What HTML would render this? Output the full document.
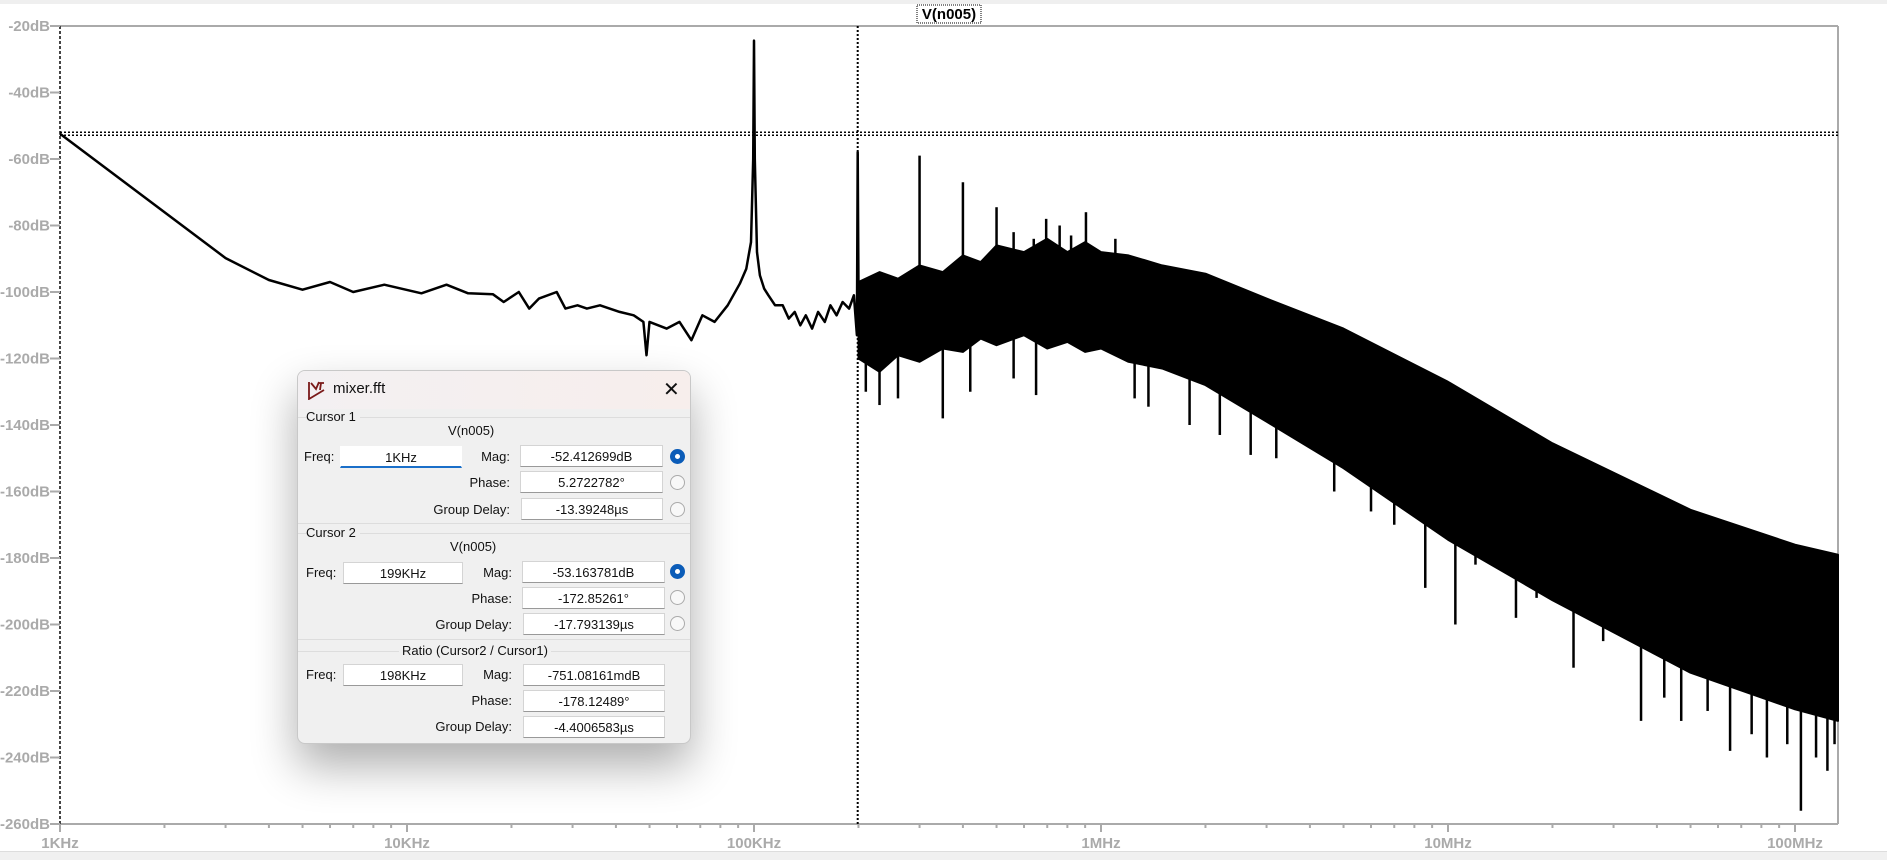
<!DOCTYPE html>
<html><head><meta charset="utf-8">
<style>
html,body{margin:0;padding:0;width:1887px;height:859px;overflow:hidden;background:#fff;font-family:"Liberation Sans",sans-serif;}
#chart{position:absolute;left:0;top:0;}
.dlg{position:absolute;left:297px;top:370px;width:392px;height:372px;background:#f0f0f0;border:1px solid #c8c8c8;border-radius:8px;box-shadow:0 22px 45px rgba(0,0,0,0.32);overflow:hidden;font-size:13px;color:#111;}
.tb{position:absolute;left:0;top:0;width:392px;height:38px;background:linear-gradient(90deg,#f3f0f2,#f7eeec);}
.a{position:absolute;white-space:nowrap;}
.box{position:absolute;background:#fff;border:1px solid #d4d4d4;border-bottom:1px solid #999;text-align:center;line-height:22px;height:22px;box-sizing:border-box;}
.r{position:absolute;width:15px;height:15px;border-radius:50%;border:1px solid #aaa;background:#f8f8f8;box-sizing:border-box;}
.r.on{background:#fff;border:5px solid #0b5cb8;}
.sep{position:absolute;left:0;width:392px;height:1px;background:#ddd;}
.right{text-align:right;}
</style></head><body>
<div style="position:absolute;left:0;top:0;width:1887px;height:4px;background:#efefef;"></div>
<div style="position:absolute;left:0;top:851px;width:1887px;height:8px;background:#f0f0f0;border-top:1px solid #ddd;"></div>
<svg id="chart" width="1887" height="859"></svg>

<div class="dlg">
  <div class="tb"></div>
  <svg class="a" style="left:9px;top:9px" width="20" height="20"><path d="M2 2 L2 19 L17 10 M4 3 L9 9 L12 2 M11 3 L17 3 M14 3 L13 10" stroke="#7a1a1a" stroke-width="1.8" fill="none"/></svg>
  <div class="a" style="left:35px;top:9px;font-size:15px;">mixer.fft</div>
  <div class="a" style="left:365px;top:6px;font-size:20px;font-weight:300;">✕</div>

  <div class="sep" style="top:46px;"></div>
  <div class="a" style="left:8px;top:38px;background:#f0f0f0;padding-right:4px;">Cursor 1</div>
  <div class="a" style="left:150px;top:52px;width:46px;text-align:center;">V(n005)</div>
  <div class="a" style="left:6px;top:78px;">Freq:</div>
  <div class="box" style="left:42px;top:75px;width:122px;border-bottom:2px solid #1a6fc9;border-color:#fff #fff #1a6fc9 #fff;">1KHz</div>
  <div class="a right" style="left:150px;top:78px;width:62px;">Mag:</div>
  <div class="box" style="left:222px;top:74px;width:143px;">-52.412699dB</div>
  <div class="r on" style="left:372px;top:78px;"></div>
  <div class="a right" style="left:100px;top:104px;width:112px;">Phase:</div>
  <div class="box" style="left:222px;top:100px;width:143px;">5.2722782°</div>
  <div class="r" style="left:372px;top:104px;"></div>
  <div class="a right" style="left:60px;top:131px;width:152px;">Group Delay:</div>
  <div class="box" style="left:223px;top:127px;width:142px;">-13.39248µs</div>
  <div class="r" style="left:372px;top:131px;"></div>

  <div class="sep" style="top:152px;"></div>
  <div class="sep" style="top:162px;"></div>
  <div class="a" style="left:8px;top:154px;background:#f0f0f0;padding-right:4px;">Cursor 2</div>
  <div class="a" style="left:152px;top:168px;width:46px;text-align:center;">V(n005)</div>
  <div class="a" style="left:8px;top:194px;">Freq:</div>
  <div class="box" style="left:45px;top:191px;width:120px;">199KHz</div>
  <div class="a right" style="left:152px;top:194px;width:62px;">Mag:</div>
  <div class="box" style="left:224px;top:190px;width:143px;">-53.163781dB</div>
  <div class="r on" style="left:372px;top:193px;"></div>
  <div class="a right" style="left:102px;top:220px;width:112px;">Phase:</div>
  <div class="box" style="left:224px;top:216px;width:143px;">-172.85261°</div>
  <div class="r" style="left:372px;top:219px;"></div>
  <div class="a right" style="left:62px;top:246px;width:152px;">Group Delay:</div>
  <div class="box" style="left:225px;top:242px;width:142px;">-17.793139µs</div>
  <div class="r" style="left:372px;top:245px;"></div>

  <div class="sep" style="top:268px;"></div>
  <div class="sep" style="top:280px;"></div>
  <div class="a" style="left:101px;top:272px;background:#f0f0f0;padding:0 3px;">Ratio (Cursor2 / Cursor1)</div>
  <div class="a" style="left:8px;top:296px;">Freq:</div>
  <div class="box" style="left:45px;top:293px;width:120px;">198KHz</div>
  <div class="a right" style="left:152px;top:296px;width:62px;">Mag:</div>
  <div class="box" style="left:225px;top:293px;width:142px;">-751.08161mdB</div>
  <div class="a right" style="left:102px;top:322px;width:112px;">Phase:</div>
  <div class="box" style="left:225px;top:319px;width:142px;">-178.12489°</div>
  <div class="a right" style="left:62px;top:348px;width:152px;">Group Delay:</div>
  <div class="box" style="left:225px;top:345px;width:142px;">-4.4006583µs</div>
</div>

<script>
// ---- data (frequency in KHz, magnitude in dB) ----
const yTicks = [-20,-40,-60,-80,-100,-120,-140,-160,-180,-200,-220,-240,-260];
const xTickFreqs = [1,10,100,1000,10000,100000];
const xTickLabels = ["1KHz","10KHz","100KHz","1MHz","10MHz","100MHz"];
const lowFreqs = [1,3.0,4,5,6,7,8.6,11,13,15,17.7,19,21,22.5,24,27,28.6,31,33,36,41,45,48,49,50,56,61,66,71,77,84,91,95,98,99.5,100,100.5,102,104,107,110,115,121,126,131,136,141,147,153,160,166,173,180,188,194,198,199,200];
const lowDb = [-52.4,-89.8,-96.4,-99.3,-97,-100,-97.8,-100.4,-97.8,-100.4,-100.7,-103,-100,-105,-102,-100,-105,-104,-105,-104,-106,-107,-109,-119,-109,-111,-109,-114.5,-107,-109,-104,-97.5,-93,-85,-60,-24.4,-60,-88,-95,-99,-101,-104,-104,-108,-106,-110,-107,-111,-106,-109,-104,-107,-103,-105,-101,-113,-58,-100];
const envFreqs = [200,230,260,300,350,400,450,500,600,700,800,900,1000,1200,1500,2000,3000,5000,10000,20000,50000,100000,133000];
const envUpper = [-97,-94,-96,-92,-94,-89,-91,-86,-88,-84,-88,-85,-88,-89,-92,-94.5,-102,-111,-127,-145.5,-165.5,-176,-179];
const envLower = [-120,-124,-119,-121,-117,-118,-114,-116,-113,-117,-115,-118,-117,-121,-123,-128,-139,-153,-174.5,-192.7,-214.5,-225.5,-229];
const spikeUpFreqs = [300,400,500,695,905,820,1100,560,760,640];
const spikeUpDb = [-59,-67,-74.5,-78,-76,-83,-84,-82,-80,-84];
const spikeDownFreqs = [350,650,1370,2700,3700,4700,8600,10500,15700,23000,36000,47000,65000,83000,104000,124000,210,230,260,420,560,1800,1250,2200,3200,6000,7000,12000,18000,28000,42000,56000,75000,95000,115000,130000];
const spikeDownDb = [-138,-131,-134.5,-149,-142,-160,-189,-200,-198,-213,-229,-229,-238,-240,-256,-244,-130,-134,-132,-130,-126,-140,-132,-143,-150,-166,-170,-182,-192,-205,-222,-226,-233,-236,-240,-236];

// ---- axes ----
const X0=60, DEC=347, Y0=26, PER20=66.5, XR=1838, YB=824;
const xs = f => X0 + Math.log10(f)*DEC;
const ys = d => Y0 + (-20-d)/20*PER20;
const NS="http://www.w3.org/2000/svg";
const svg=document.getElementById('chart');
function mk(tag,attrs){const e=document.createElementNS(NS,tag);for(const k in attrs)e.setAttribute(k,attrs[k]);svg.appendChild(e);return e;}
function logInterp(fa,va,f){for(let i=0;i<fa.length-1;i++){if(f<=fa[i+1]){const t=(Math.log10(f)-Math.log10(fa[i]))/(Math.log10(fa[i+1])-Math.log10(fa[i]));return va[i]+t*(va[i+1]-va[i]);}}return va[va.length-1];}

let e;
e=mk('line',{x1:X0,y1:Y0,x2:XR,y2:Y0,stroke:'#aaa','stroke-width':2});


e=mk('line',{x1:XR,y1:Y0,x2:XR,y2:YB,stroke:'#aaa','stroke-width':2});


e=mk('line',{x1:X0,y1:YB,x2:XR,y2:YB,stroke:'#aaa','stroke-width':2});


e=mk('line',{x1:X0,y1:Y0,x2:X0,y2:YB,stroke:'#444','stroke-width':2,'stroke-dasharray':'3,2'});



yTicks.forEach(d=>{
  const y=ys(d);
  const t=mk('line',{x1:50,y1:y,x2:X0,y2:y,stroke:'#aaa','stroke-width':2});
  
  
  const l=mk('text',{x:50,y:y+5,'text-anchor':'end','font-size':15,'font-weight':'bold',fill:'#aaa','font-family':'Liberation Sans, sans-serif'});
  l.textContent=d+'dB';
  
  
});
xTickFreqs.forEach((f,i)=>{
  const x=xs(f);
  const t=mk('line',{x1:x,y1:YB,x2:x,y2:YB+8,stroke:'#aaa','stroke-width':2});
  
  
  const l=mk('text',{x:x,y:YB+24,'text-anchor':'middle','font-size':15,'font-weight':'bold',fill:'#aaa','font-family':'Liberation Sans, sans-serif'});
  l.textContent=xTickLabels[i];
  
  
  for(let m=2;m<=9;m++){const fx=xs(f*m);if(fx<XR){const mt=mk('line',{x1:fx,y1:YB,x2:fx,y2:YB+4,stroke:'#aaa','stroke-width':2});
    
    }}
});

const lowPts=lowFreqs.map((f,i)=>xs(f).toFixed(1)+','+ys(lowDb[i]).toFixed(1)).join(' ');
e=mk('polyline',{points:lowPts,fill:'none',stroke:'#000','stroke-width':2.5,'stroke-linejoin':'round'});



const up=envFreqs.map((f,i)=>xs(f).toFixed(1)+','+ys(envUpper[i]).toFixed(1));
const lo=envFreqs.map((f,i)=>xs(f).toFixed(1)+','+ys(envLower[i]).toFixed(1)).reverse();
e=mk('polygon',{points:up.concat(lo).join(' '),fill:'#000',stroke:'#000','stroke-width':2,'stroke-linejoin':'round'});



spikeUpFreqs.forEach((f,i)=>{
  const s=mk('line',{x1:xs(f),y1:ys(logInterp(envFreqs,envUpper,f))+4,x2:xs(f),y2:ys(spikeUpDb[i]),stroke:'#000','stroke-width':2.5});
  
  
});
spikeDownFreqs.forEach((f,i)=>{
  const s=mk('line',{x1:xs(f),y1:ys(logInterp(envFreqs,envLower,f))-4,x2:xs(f),y2:ys(spikeDownDb[i]),stroke:'#000','stroke-width':2.5});
  
  
});

const c1=-52.4, c2f=199;
e=mk('line',{x1:X0,y1:ys(c1)-1.5,x2:XR,y2:ys(c1)-1.5,stroke:'#000','stroke-width':1.5,'stroke-dasharray':'2,2'});


e=mk('line',{x1:X0,y1:ys(c1)+1.5,x2:XR,y2:ys(c1)+1.5,stroke:'#000','stroke-width':1.5,'stroke-dasharray':'2,2'});


e=mk('line',{x1:xs(c2f),y1:Y0,x2:xs(c2f),y2:YB,stroke:'#000','stroke-width':2,'stroke-dasharray':'2,2'});



e=mk('rect',{x:917,y:5,width:64,height:18,fill:'#fff',stroke:'#000','stroke-width':1,'stroke-dasharray':'1,1'});


e=mk('text',{x:949,y:19,'text-anchor':'middle','font-size':15,'font-weight':'bold',fill:'#000','font-family':'Liberation Sans, sans-serif'});
e.textContent='V(n005)';


</script>
</body></html>
